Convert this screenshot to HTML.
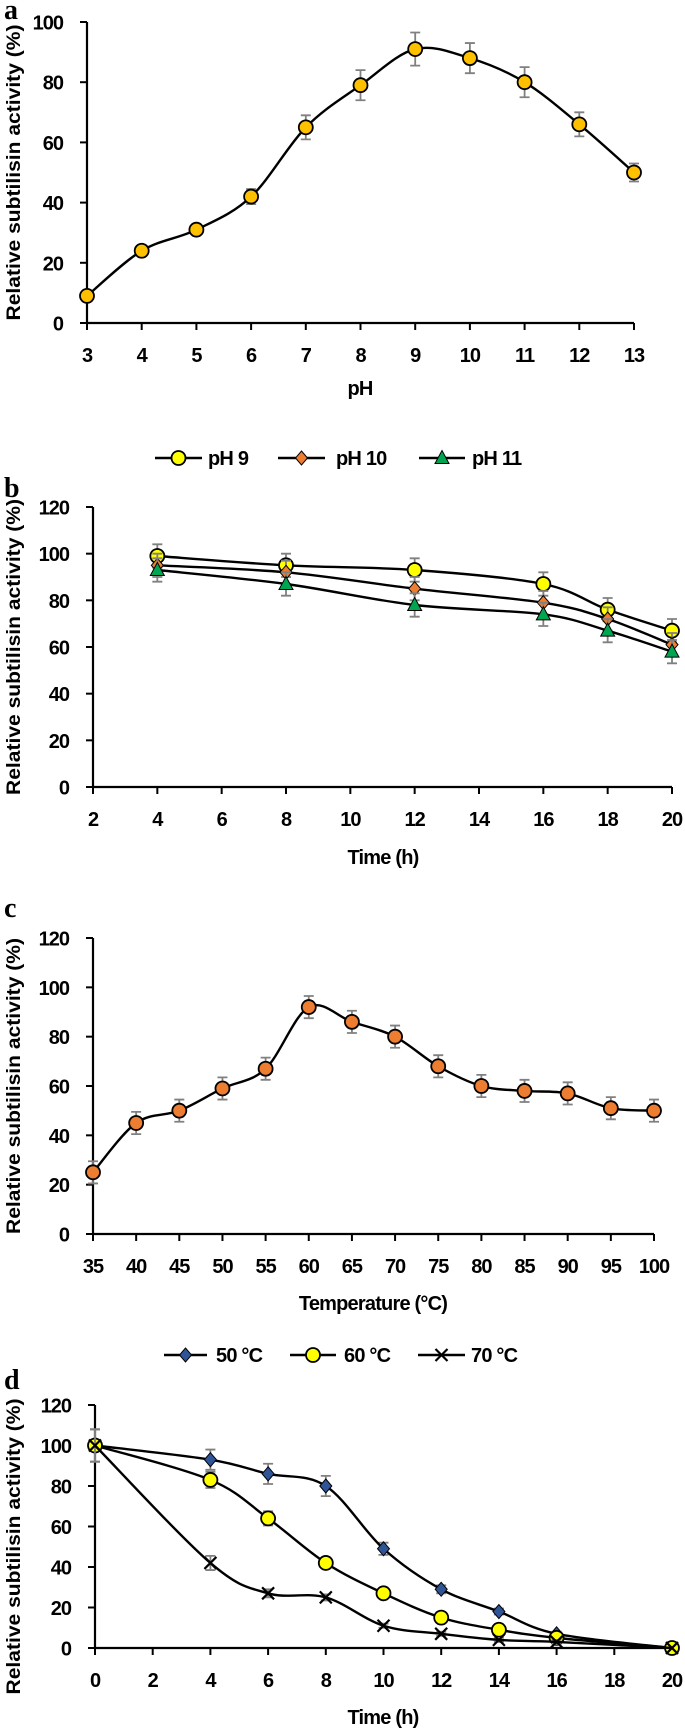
<!DOCTYPE html>
<html><head><meta charset="utf-8">
<style>
html,body{margin:0;padding:0;background:#fff;}
svg{display:block;font-family:"Liberation Sans",Arial,sans-serif;}
</style></head>
<body>
<svg id="fig" width="685" height="1729" viewBox="0 0 685 1729" xmlns="http://www.w3.org/2000/svg"></svg>
<script>
// ---- Panel a data ----
const aX = [3,4,5,6,7,8,9,10,11,12,13];
const aY = [9,24,31,42,65,79,91,88,80,66,50];
const aErr = [0.5,1,1,2.5,4,5,5.5,5,5,4,3];
const aXTicks = [3,4,5,6,7,8,9,10,11,12,13];
const aYTicks = [0,20,40,60,80,100];
// ---- Panel b data ----
const bX = [4,8,12,16,18,20];
const bPH9 = [99,95,93,87,76,67];
const bPH10 = [95,92,85,79,72,61];
const bPH11 = [93,87,78,74,67,58];
const bErr = [5,5,5,5,5,5];
const bXTicks = [2,4,6,8,10,12,14,16,18,20];
const bYTicks = [0,20,40,60,80,100,120];
// ---- Panel c data ----
const cX = [35,40,45,50,55,60,65,70,75,80,85,90,95,100];
const cY = [25,45,50,59,67,92,86,80,68,60,58,57,51,50];
const cErr = [4.5,4.5,4.5,4.5,4.5,4.5,4.5,4.5,4.5,4.5,4.5,4.5,4.5,4.5];
const cXTicks = [35,40,45,50,55,60,65,70,75,80,85,90,95,100];
const cYTicks = [0,20,40,60,80,100,120];
// ---- Panel d data ----
const dX = [0,4,6,8,10,12,14,16,20];
const d50 = [100,93,86,80,49,29,18,7,0];
const d60 = [100,83,64,42,27,15,9,5,0];
const d70 = [100,42,27,25,11,7,4,3,0];
const d50Err = [8,5,5,5,3,2,1.5,1,0];
const d60Err = [8,4,3.5,2,1.5,1,1,1,0];
const d70Err = [8,3.5,2,1.5,1,1,1,1,0];
const dXTicks = [0,2,4,6,8,10,12,14,16,18,20];
const dYTicks = [0,20,40,60,80,100,120];

const NS = "http://www.w3.org/2000/svg";
const svg = document.getElementById("fig");
function mk(tag, attrs, parent){
  const e = document.createElementNS(NS, tag);
  for (const k in attrs) e.setAttribute(k, attrs[k]);
  (parent||svg).appendChild(e);
  return e;
}
function txt(parent, x, y, s, size, anchor, extra){
  const t = mk("text", Object.assign({x:x, y:y, "font-size":size, "font-weight":"bold", "text-anchor":anchor||"middle", fill:"#000"}, extra||{}), parent);
  t.textContent = s;
  return t;
}
function smoothPath(pts){
  let d = "M" + pts[0][0] + "," + pts[0][1];
  for (let i=0;i<pts.length-1;i++){
    const p0 = pts[Math.max(i-1,0)], p1 = pts[i], p2 = pts[i+1], p3 = pts[Math.min(i+2,pts.length-1)];
    const c1x = p1[0] + (p2[0]-p0[0])/6, c1y = p1[1] + (p2[1]-p0[1])/6;
    const c2x = p2[0] - (p3[0]-p1[0])/6, c2y = p2[1] - (p3[1]-p1[1])/6;
    d += " C" + c1x + "," + c1y + " " + c2x + "," + c2y + " " + p2[0] + "," + p2[1];
  }
  return d;
}
function marker(g, type, x, y, fill){
  let m;
  if (type === "circle"){
    m = mk("circle", {cx:x, cy:y, r:7, fill:fill, stroke:"#000", "stroke-width":1.8}, g);
  } else if (type === "diamond"){
    m = mk("path", {d:`M${x},${y-7}L${x+6},${y}L${x},${y+7}L${x-6},${y}Z`, fill:fill, stroke:"#000", "stroke-width":1}, g);
  } else if (type === "triangle"){
    m = mk("path", {d:`M${x},${y-7.5}L${x+7},${y+5.5}L${x-7},${y+5.5}Z`, fill:fill, stroke:"#000", "stroke-width":1}, g);
  } else {
    m = mk("path", {d:`M${x-6},${y-6}L${x+6},${y+6}M${x+6},${y-6}L${x-6},${y+6}`, stroke:"#000", "stroke-width":2.2, fill:"none"}, g);
  }
  return m;
}

function panel(cfg){
  const g = mk("g", {});
  
  
  const xs = v => cfg.x0 + (v - cfg.xmin)/(cfg.xmax - cfg.xmin)*(cfg.x1 - cfg.x0);
  const ys = v => cfg.y0 - (v - cfg.ymin)/(cfg.ymax - cfg.ymin)*(cfg.y0 - cfg.y1);
  const L = mk("text", {x:4, y:cfg.letterY, "font-size":28, "font-weight":"bold", "font-family":"'Liberation Serif',serif", fill:"#000"}, g);
  L.textContent = cfg.letter;
  
  
  const yAxis = mk("line", {x1:cfg.x0, y1:cfg.y1, x2:cfg.x0, y2:cfg.y0, stroke:"#000", "stroke-width":2.2}, g);
  
  
  const xAxis = mk("line", {x1:cfg.x0, y1:cfg.y0, x2:cfg.x1, y2:cfg.y0, stroke:"#000", "stroke-width":2.2}, g);
  
  
  cfg.yTicks.forEach(v => {
    const y = ys(v);
    mk("line", {x1:cfg.x0-7, y1:y, x2:cfg.x0, y2:y, stroke:"#000", "stroke-width":2}, g);
    const t = txt(g, cfg.x0-24, y+7.5, String(v), 20, "end", {"letter-spacing":"-1"});
    
    
  });
  cfg.xTicks.forEach(v => {
    const x = xs(v);
    mk("line", {x1:x, y1:cfg.y0, x2:x, y2:cfg.y0+7, stroke:"#000", "stroke-width":2}, g);
    const t = txt(g, x, cfg.y0+39, String(v), 20, "middle", {"letter-spacing":"-1"});
    
    
  });
  const xt = txt(g, cfg.xTitleX, cfg.xTitleY, cfg.xTitle, 20, "middle", {"letter-spacing":"-0.8"});
  
  
  const cy = (cfg.y0 + cfg.y1)/2 + cfg.yTitleShift;
  const yt = txt(g, 0, 0, "Relative subtilisin activity (%)", 19, "middle", {transform:`translate(20,${cy}) rotate(-90)`, textLength:296, lengthAdjust:"spacingAndGlyphs"});
  
  
  cfg.series.forEach(s => {
    const sg = mk("g", {}, g);
    
    
    s.vals.forEach((v,i) => {
      const e = s.err[i];
      if (e > 0){
        const x = xs(cfg.xs[i]), ya = ys(v+e), yb = ys(v-e);
        const eb = mk("path", {d:`M${x},${ya}L${x},${yb}M${x-5},${ya}L${x+5},${ya}M${x-5},${yb}L${x+5},${yb}`, stroke:"#808080", "stroke-width":1.8, fill:"none"}, sg);
        
        
      }
    });
    const pts = s.vals.map((v,i) => [xs(cfg.xs[i]), ys(v)]);
    const ln = mk("path", {d:smoothPath(pts), stroke:"#000", "stroke-width":2.4, fill:"none"}, sg);
    
    
    pts.forEach(p => {
      const m = marker(sg, s.type, p[0], p[1], s.fill);
      
      
    });
  });
  if (cfg.legend){
    const lg = mk("g", {}, g);
    
    
    cfg.legend.forEach((it, i) => {
      const s = cfg.series[i];
      const eg = mk("g", {}, lg);
      
      
      mk("line", {x1:it.l1, y1:cfg.legendY, x2:it.l2, y2:cfg.legendY, stroke:"#000", "stroke-width":2.4}, eg);
      marker(eg, s.type, (it.l1+it.l2)/2, cfg.legendY, s.fill);
      txt(eg, it.tx, cfg.legendY+7, s.label, 20, "start", {"letter-spacing":"-0.8"});
    });
  }
}

panel({name:"panel-a-ph-activity", letter:"a", letterY:19, x0:87, x1:634, y0:323, y1:22, xmin:3, xmax:13, ymin:0, ymax:100,
  xTicks:aXTicks, yTicks:aYTicks, xTitle:"pH", xTitleX:360, xTitleY:395, yTitleShift:0, xs:aX,
  series:[{key:"ph", vals:aY, err:aErr, type:"circle", fill:"#FFC000", label:""}]});

panel({name:"panel-b-ph-stability", letter:"b", letterY:497, x0:93, x1:672, y0:787, y1:507, xmin:2, xmax:20, ymin:0, ymax:120,
  xTicks:bXTicks, yTicks:bYTicks, xTitle:"Time (h)", xTitleX:383, xTitleY:864, yTitleShift:0, xs:bX,
  series:[
    {key:"ph9", vals:bPH9, err:bErr, type:"circle", fill:"#FFFF00", label:"pH 9"},
    {key:"ph10", vals:bPH10, err:bErr, type:"diamond", fill:"#ED7D31", label:"pH 10"},
    {key:"ph11", vals:bPH11, err:bErr, type:"triangle", fill:"#00A550", label:"pH 11"}],
  legendY:458, legend:[{l1:155,l2:202,tx:208},{l1:278,l2:325,tx:336},{l1:419,l2:465,tx:472}]});

panel({name:"panel-c-temperature-activity", letter:"c", letterY:917, x0:93, x1:654, y0:1234, y1:938, xmin:35, xmax:100, ymin:0, ymax:120,
  xTicks:cXTicks, yTicks:cYTicks, xTitle:"Temperature (°C)", xTitleX:373, xTitleY:1310, yTitleShift:0, xs:cX,
  series:[{key:"temp", vals:cY, err:cErr, type:"circle", fill:"#ED7D31", label:""}]});

panel({name:"panel-d-thermostability", letter:"d", letterY:1389, x0:95, x1:672, y0:1648, y1:1405, xmin:0, xmax:20, ymin:0, ymax:120,
  xTicks:dXTicks, yTicks:dYTicks, xTitle:"Time (h)", xTitleX:383, xTitleY:1724, yTitleShift:20, xs:dX,
  series:[
    {key:"50c", vals:d50, err:d50Err, type:"diamond", fill:"#2F5597", label:"50 °C"},
    {key:"60c", vals:d60, err:d60Err, type:"circle", fill:"#FFFF00", label:"60 °C"},
    {key:"70c", vals:d70, err:d70Err, type:"x", fill:"none", label:"70 °C"}],
  legendY:1355, legend:[{l1:164,l2:207,tx:216},{l1:290,l2:336,tx:344},{l1:418,l2:465,tx:471}]});
</script>
</body></html>
